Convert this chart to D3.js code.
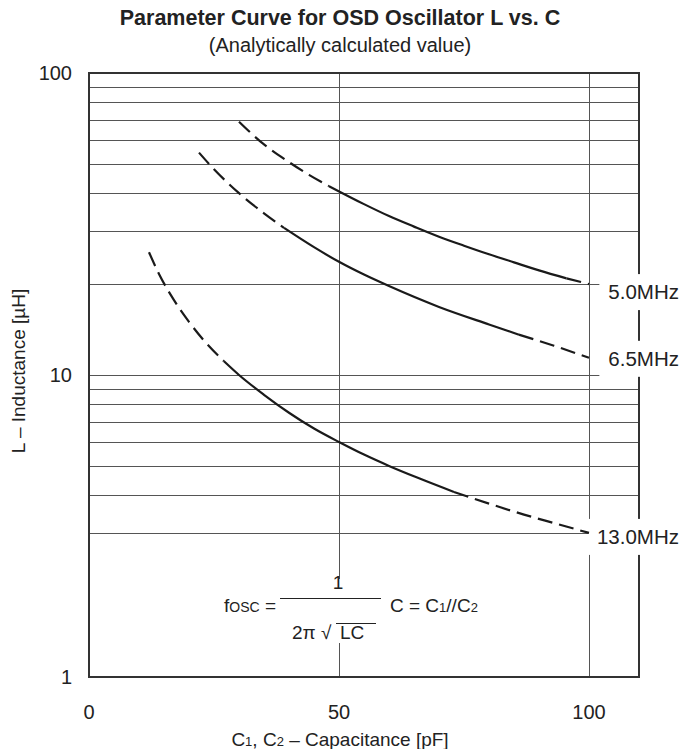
<!DOCTYPE html>
<html>
<head>
<meta charset="utf-8">
<script src="https://cdn.jsdelivr.net/npm/d3@7"></script>
<style>
  body { margin: 0; background: #fff; }
  svg { display: block; font-family: "Liberation Sans", Arial, sans-serif; }
</style>
</head>
<body>
<svg id="chart" width="682" height="749"></svg>
<script>
// axis ticks and grid
const xTicks = [0, 50, 100];
const yTicks = [1, 10, 100];
const xGrid = [50, 100];
const yGrid = [3, 4, 5, 6, 7, 8, 9, 10, 20, 30, 40, 50, 60, 70, 80, 90];

// C1 [pF] vs L [uH]
const curveNames = ["5.0MHz", "6.5MHz", "13.0MHz"];
const cap50 = [30, 35, 40, 44, 48, 55, 60, 65, 70, 75, 80, 85, 90, 95.5, 100];
const ind50 = [69, 58, 50.7, 46, 42.2, 36.8, 33.6, 31, 28.7, 26.8, 25.1, 23.6, 22.2, 20.9, 20];
const cap65 = [22, 25, 30, 35, 39, 45, 50, 55, 60, 70, 80, 86, 93, 100];
const ind65 = [54.5, 48, 40, 34.3, 30.7, 26.5, 23.7, 21.5, 19.7, 16.8, 14.7, 13.6, 12.5, 11.4];
const cap130 = [12, 14, 17, 20, 23, 27, 30, 35, 40, 45, 50, 55, 60, 66, 73, 80, 87, 94, 100];
const ind130 = [25.5, 21.6, 17.7, 15, 13, 11.1, 10, 8.6, 7.5, 6.65, 6, 5.45, 5, 4.55, 4.1, 3.75, 3.45, 3.2, 3.0];
// where each curve turns from dashed to solid and back
const solidFrom = [48, 39, 27];
const solidTo = [95.5, 86, 73];

const svg = d3.select("#chart");
const ink = "#222";

const x = d3.scaleLinear().domain([0, 110]).range([89, 639]);
const y = d3.scaleLog().domain([1, 100]).range([677, 73]);

// grid
const grid = svg.append("g").attr("stroke", "#555").attr("stroke-width", 1);
grid.selectAll("line.h").data(yGrid).join("line")
  .attr("class", "h")
  .attr("x1", x(0)).attr("x2", x(110))
  .attr("y1", d => Math.round(y(d)) + 0.5).attr("y2", d => Math.round(y(d)) + 0.5);
grid.selectAll("line.v").data(xGrid).join("line")
  .attr("class", "v")
  .attr("x1", d => Math.round(x(d)) + 0.5).attr("x2", d => Math.round(x(d)) + 0.5)
  .attr("y1", y(100)).attr("y2", y(1));

// frame
svg.append("rect")
  .attr("x", x(0)).attr("y", y(100))
  .attr("width", x(110) - x(0)).attr("height", y(1) - y(100))
  .attr("fill", "none").attr("stroke", "#333").attr("stroke-width", 2);

// tick labels
svg.append("g").selectAll("text").data(yTicks).join("text")
  .attr("x", 72).attr("y", d => y(d)).attr("dy", "0.35em")
  .attr("text-anchor", "end").attr("font-size", 20).attr("fill", ink)
  .text(d => d);
svg.append("g").selectAll("text").data(xTicks).join("text")
  .attr("x", d => x(d)).attr("y", 719)
  .attr("text-anchor", "middle").attr("font-size", 20).attr("fill", ink)
  .text(d => d);

// titles
svg.append("text").attr("x", 340).attr("y", 25)
  .attr("text-anchor", "middle").attr("font-size", 21.5).attr("font-weight", "bold").attr("fill", ink)
  .text("Parameter Curve for OSD Oscillator L vs. C");
svg.append("text").attr("x", 340).attr("y", 52)
  .attr("text-anchor", "middle").attr("font-size", 20).attr("fill", ink)
  .text("(Analytically calculated value)");

svg.append("text")
  .attr("transform", "translate(18," + ((y(1) + y(100)) / 2 - 4) + ") rotate(-90)")
  .attr("dy", "0.35em").attr("text-anchor", "middle").attr("font-size", 19).attr("fill", ink)
  .text("L \u2013 Inductance [\u00b5H]");

const xt = svg.append("text").attr("x", 340).attr("y", 746)
  .attr("text-anchor", "middle").attr("font-size", 19).attr("fill", ink);
xt.append("tspan").text("C");
xt.append("tspan").attr("font-size", 13).text("1");
xt.append("tspan").text(", C");
xt.append("tspan").attr("font-size", 13).text("2");
xt.append("tspan").text(" \u2013 Capacitance [pF]");

// formula box
svg.append("rect").attr("x", 218).attr("y", 579).attr("width", 260).attr("height", 64).attr("fill", "#fff");
const fm = svg.append("g").attr("font-size", 19).attr("fill", ink);
const f1 = fm.append("text").attr("x", 224).attr("y", 612);
f1.append("tspan").text("f");
f1.append("tspan").attr("font-size", 14).text("OSC");
f1.append("tspan").text(" =");
fm.append("line").attr("x1", 280).attr("x2", 381).attr("y1", 598.5).attr("y2", 598.5)
  .attr("stroke", ink).attr("stroke-width", 1);
fm.append("text").attr("x", 338).attr("y", 589).attr("text-anchor", "middle").text("1");
fm.append("text").attr("x", 292).attr("y", 639).text("2\u03c0 \u221a");
fm.append("text").attr("x", 340).attr("y", 639).text("LC");
fm.append("line").attr("x1", 336).attr("x2", 376).attr("y1", 623.5).attr("y2", 623.5)
  .attr("stroke", ink).attr("stroke-width", 1);
const f2 = fm.append("text").attr("x", 390).attr("y", 612);
f2.append("tspan").text("C = C");
f2.append("tspan").attr("font-size", 13).text("1");
f2.append("tspan").text("//C");
f2.append("tspan").attr("font-size", 13).text("2");

// curves
const curves = [
  { name: curveNames[0], c: cap50, l: ind50, offset: 8 },
  { name: curveNames[1], c: cap65, l: ind65, offset: 1 },
  { name: curveNames[2], c: cap130, l: ind130, offset: 4 }
];

const line = d3.line()
  .x(d => x(d[0]))
  .y(d => y(d[1]))
  .curve(d3.curveMonotoneX);

curves.forEach((cv, i) => {
  const pts = cv.c.map((c, j) => [c, cv.l[j]]);
  const last = pts[pts.length - 1];
  const ly = y(last[1]) + cv.offset;

  // label with a white backing that cuts the grid and frame
  const backing = svg.append("rect").attr("fill", "#fff");
  const label = svg.append("text")
    .attr("x", 679).attr("y", ly).attr("dy", "0.35em")
    .attr("text-anchor", "end").attr("font-size", 20.5).attr("fill", ink)
    .text(cv.name);
  const bb = label.node().getBBox();
  backing
    .attr("x", bb.x - 9).attr("y", ly - 18)
    .attr("width", 682 - bb.x + 9).attr("height", 36);

  const parts = [
    { p: pts.filter(d => d[0] <= solidFrom[i]), dash: "15,7" },
    { p: pts.filter(d => d[0] >= solidFrom[i] && d[0] <= solidTo[i]), dash: null },
    { p: pts.filter(d => d[0] >= solidTo[i]), dash: "15,7" }
  ];
  parts.forEach(part => {
    svg.append("path")
      .datum(part.p)
      .attr("d", line)
      .attr("fill", "none")
      .attr("stroke", "#1a1a1a")
      .attr("stroke-width", 2.2)
      .attr("stroke-dasharray", part.dash);
  });
});
</script>
</body>
</html>
